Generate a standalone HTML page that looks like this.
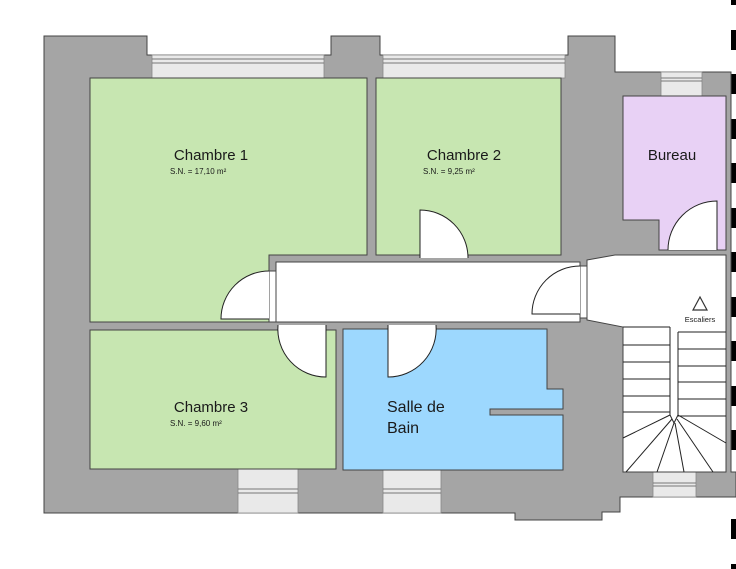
<!DOCTYPE html>
<html><head><meta charset="utf-8"><style>
html,body{margin:0;padding:0;background:#fff;}
svg{display:block;}
text{font-family:"Liberation Sans",sans-serif;fill:#1a1a1a;}
</style></head><body>
<svg width="736" height="569" viewBox="0 0 736 569" xmlns="http://www.w3.org/2000/svg">
<!-- dashes right edge -->
<g fill="#000">
<rect x="731" y="-15" width="6" height="20"/>
<rect x="731" y="30" width="6" height="20"/>
<rect x="731" y="74" width="6" height="20"/>
<rect x="731" y="119" width="6" height="20"/>
<rect x="731" y="163" width="6" height="20"/>
<rect x="731" y="208" width="6" height="20"/>
<rect x="731" y="252" width="6" height="20"/>
<rect x="731" y="297" width="6" height="20"/>
<rect x="731" y="341" width="6" height="20"/>
<rect x="731" y="386" width="6" height="20"/>
<rect x="731" y="430" width="6" height="20"/>
<rect x="731" y="475" width="6" height="20"/>
<rect x="731" y="519" width="6" height="20"/>
<rect x="731" y="564" width="6" height="20"/>
</g>
<!-- walls -->
<path d="M44,36 H147 V55 H331 V36 H380 V55 H568 V36 H615 V72 H731 V472 H736 V497 H620 V512 H602 V520 H515 V513 H44 Z" fill="#a5a5a5" stroke="#444" stroke-width="1"/>
<!-- windows -->
<g fill="#e9e9e9" stroke="#888" stroke-width="0.8">
<rect x="152" y="55" width="172" height="23"/>
<rect x="383" y="55" width="182" height="23"/>
<rect x="661" y="72" width="41" height="24"/>
<rect x="238" y="469" width="60" height="44"/>
<rect x="383" y="469" width="58" height="44"/>
<rect x="653" y="472" width="43" height="25"/>
</g>
<g stroke="#777" stroke-width="1">
<line x1="152" y1="59" x2="324" y2="59"/><line x1="152" y1="63" x2="324" y2="63"/>
<line x1="383" y1="59" x2="565" y2="59"/><line x1="383" y1="63" x2="565" y2="63"/>
<line x1="661" y1="78" x2="702" y2="78"/><line x1="661" y1="81" x2="702" y2="81"/>
<line x1="238" y1="489" x2="298" y2="489"/><line x1="238" y1="493" x2="298" y2="493"/>
<line x1="383" y1="489" x2="441" y2="489"/><line x1="383" y1="493" x2="441" y2="493"/>
<line x1="653" y1="483" x2="696" y2="483"/><line x1="653" y1="486" x2="696" y2="486"/>
</g>
<!-- rooms -->
<g stroke="#444" stroke-width="1">
<path d="M90,78 H367 V255 H269 V322 H90 Z" fill="#c7e6b1"/>
<rect x="376" y="78" width="185" height="177" fill="#c7e6b1"/>
<path d="M623,96 H726 V250 H659 V220 H623 Z" fill="#e8d1f5"/>
<rect x="90" y="330" width="246" height="139" fill="#c7e6b1"/>
<path d="M343,329 H547 V389 H563 V409 H490 V415 H563 V470 H343 Z" fill="#9dd8fe"/>
<rect x="276" y="262" width="304" height="60" fill="#fff"/>
<path d="M587,260 L615,255 H726 V472 H623 V327 L587,320 Z" fill="#fff"/>
</g>
<!-- doors -->
<g fill="#fff" stroke="#222" stroke-width="1">
<path d="M420,258 V210 A48,48 0 0 1 468,258"/>
<rect x="269" y="271" width="7" height="51" stroke="#444"/>
<path d="M269,319 H221 A48,48 0 0 1 269,271"/>
<path d="M326,325 V377 A48,48 0 0 1 278,325"/>
<path d="M388,325 V377 A48,48 0 0 0 436,325"/>
<rect x="580" y="266" width="7" height="52" stroke="#444"/>
<path d="M580,314 H532 A48,48 0 0 1 580,266"/>
<path d="M717,250 V201 A49,49 0 0 0 668,250"/>
</g>
<!-- stairs -->
<g stroke="#222" stroke-width="1" fill="none">
<line x1="623" y1="345" x2="670" y2="345"/>
<line x1="623" y1="362" x2="670" y2="362"/>
<line x1="623" y1="379" x2="670" y2="379"/>
<line x1="623" y1="396" x2="670" y2="396"/>
<line x1="623" y1="412" x2="670" y2="412"/>
<line x1="623" y1="327" x2="670" y2="327"/>
<line x1="678" y1="332" x2="726" y2="332"/>
<line x1="678" y1="349" x2="726" y2="349"/>
<line x1="678" y1="366" x2="726" y2="366"/>
<line x1="678" y1="382" x2="726" y2="382"/>
<line x1="678" y1="399" x2="726" y2="399"/>
<line x1="678" y1="416" x2="726" y2="416"/>
<path d="M670,327 V415 L674,423 L678,415 V332"/>
<line x1="670" y1="415" x2="623" y2="438"/>
<line x1="672" y1="419" x2="626" y2="472"/>
<line x1="674" y1="423" x2="657" y2="472"/>
<line x1="675" y1="423" x2="684" y2="472"/>
<line x1="677" y1="419" x2="713" y2="472"/>
<line x1="678" y1="415" x2="726" y2="443"/>
<path d="M700,297 L707,310 H693 Z" stroke="#333" stroke-width="1.2"/>
</g>
<!-- labels -->
<text x="211" y="160" font-size="15" text-anchor="middle">Chambre 1</text>
<text x="170" y="174" font-size="8">S.N. = 17,10 m²</text>
<text x="464" y="160" font-size="15" text-anchor="middle">Chambre 2</text>
<text x="423" y="174" font-size="8">S.N. = 9,25 m²</text>
<text x="672" y="160" font-size="15" text-anchor="middle">Bureau</text>
<text x="700" y="322" font-size="7.5" text-anchor="middle">Escaliers</text>
<text x="211" y="412" font-size="15" text-anchor="middle">Chambre 3</text>
<text x="170" y="426" font-size="8">S.N. = 9,60 m²</text>
<text x="387" y="412" font-size="16">Salle de</text>
<text x="387" y="433" font-size="16">Bain</text>
</svg>
</body></html>
